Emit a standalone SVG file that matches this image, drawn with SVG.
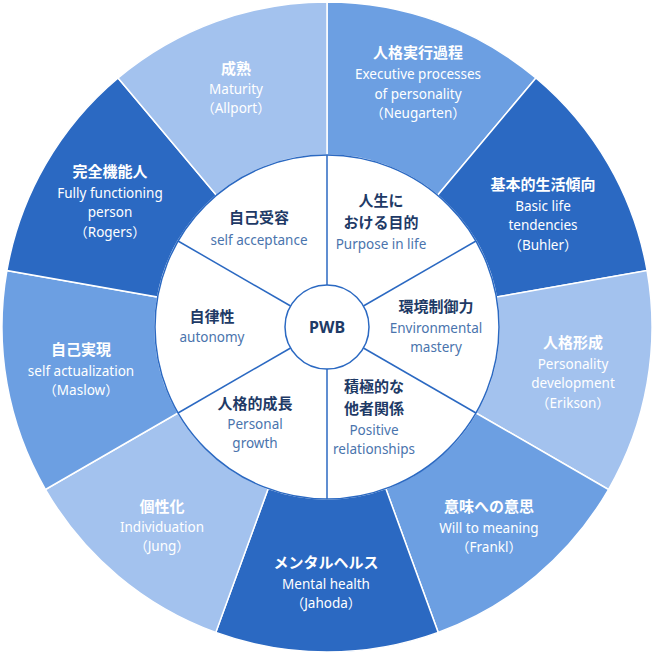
<svg xmlns="http://www.w3.org/2000/svg" width="654" height="654" viewBox="0 0 654 654">
<style>
.l{fill:#a3c2ee}.m{fill:#6c9fe2}.d{fill:#2b69c2}
.seg path{stroke:#fff;stroke-width:1.5}
text{font-family:"Noto Sans CJK JP","Noto Sans",sans-serif;text-anchor:middle}
.ot{fill:#fff;font-size:15px;font-weight:bold}
.os{fill:#fff;font-size:13.5px;font-family:"Noto Sans","Noto Sans CJK JP",sans-serif}
.it{fill:#1e3a66;font-size:15px;font-weight:bold}
.is{fill:#4a74ad;font-size:13.5px;font-family:"Noto Sans","Noto Sans CJK JP",sans-serif}
.ln{stroke:#2b69c2;stroke-width:1.5}
</style>
<g class="seg">
<g id="n-executive"><path class="m" d="M327,2 A325,325 0 0 1 535.9,78 L437.6,195.2 A172,172 0 0 0 327,155Z"/>
<text class="ot" x="418" y="58">人格実行過程</text><text class="os" x="418" y="79">Executive processes</text><text class="os" x="418" y="99">of personality</text><text class="os" x="418" y="118">（Neugarten）</text></g>
<g id="n-basic"><path class="d" d="M535.9,78 A325,325 0 0 1 647.1,270.6 L496.4,297.1 A172,172 0 0 0 437.6,195.2Z"/>
<text class="ot" x="543" y="190">基本的生活傾向</text><text class="os" x="543" y="211">Basic life</text><text class="os" x="543" y="230">tendencies</text><text class="os" x="543" y="250">（Buhler）</text></g>
<g id="n-erikson"><path class="l" d="M647.1,270.6 A325,325 0 0 1 608.5,489.5 L476,413 A172,172 0 0 0 496.4,297.1Z"/>
<text class="ot" x="573" y="348">人格形成</text><text class="os" x="573" y="369">Personality</text><text class="os" x="573" y="388">development</text><text class="os" x="573" y="408">（Erikson）</text></g>
<g id="n-frankl"><path class="m" d="M608.5,489.5 A325,325 0 0 1 438.2,632.4 L385.8,488.6 A172,172 0 0 0 476,413Z"/>
<text class="ot" x="489" y="512">意味への意思</text><text class="os" x="489" y="533">Will to meaning</text><text class="os" x="489" y="552">（Frankl）</text></g>
<g id="n-jahoda"><path class="d" d="M438.2,632.4 A325,325 0 0 1 215.8,632.4 L268.2,488.6 A172,172 0 0 0 385.8,488.6Z"/>
<text class="ot" x="326" y="568">メンタルヘルス</text><text class="os" x="326" y="589">Mental health</text><text class="os" x="326" y="608">（Jahoda）</text></g>
<g id="n-jung"><path class="l" d="M215.8,632.4 A325,325 0 0 1 45.5,489.5 L178,413 A172,172 0 0 0 268.2,488.6Z"/>
<text class="ot" x="162" y="512">個性化</text><text class="os" x="162" y="532">Individuation</text><text class="os" x="162" y="551">（Jung）</text></g>
<g id="n-maslow"><path class="m" d="M45.5,489.5 A325,325 0 0 1 6.9,270.6 L157.6,297.1 A172,172 0 0 0 178,413Z"/>
<text class="ot" x="81" y="355">自己実現</text><text class="os" x="81" y="376">self actualization</text><text class="os" x="81" y="395">（Maslow）</text></g>
<g id="n-rogers"><path class="d" d="M6.9,270.6 A325,325 0 0 1 118.1,78 L216.4,195.2 A172,172 0 0 0 157.6,297.1Z"/>
<text class="ot" x="110" y="177">完全機能人</text><text class="os" x="110" y="198">Fully functioning</text><text class="os" x="110" y="217">person</text><text class="os" x="110" y="237">（Rogers）</text></g>
<g id="n-allport"><path class="l" d="M118.1,78 A325,325 0 0 1 327,2 L327,155 A172,172 0 0 0 216.4,195.2Z"/>
<text class="ot" x="236" y="74">成熟</text><text class="os" x="236" y="94">Maturity</text><text class="os" x="236" y="113">（Allport）</text></g>
</g>
<circle cx="327" cy="327" r="172" fill="#fff" stroke="#2b69c2" stroke-width="1.5"/>
<g id="connectors">
<line class="ln" x1="327" y1="285" x2="327" y2="155"/>
<line class="ln" x1="363.4" y1="306" x2="476" y2="241"/>
<line class="ln" x1="363.4" y1="348" x2="476" y2="413"/>
<line class="ln" x1="327" y1="369" x2="327" y2="499"/>
<line class="ln" x1="290.6" y1="348" x2="178" y2="413"/>
<line class="ln" x1="290.6" y1="306" x2="178" y2="241"/>
</g>
<g id="n-acceptance"><text class="it" x="259" y="223">自己受容</text><text class="is" x="259" y="245">self acceptance</text></g>
<g id="n-purpose"><text class="it" x="381" y="206">人生に</text><text class="it" x="381" y="228">おける目的</text><text class="is" x="381" y="249">Purpose in life</text></g>
<g id="n-mastery"><text class="it" x="436" y="312">環境制御力</text><text class="is" x="436" y="333">Environmental</text><text class="is" x="436" y="352">mastery</text></g>
<g id="n-relations"><text class="it" x="374" y="392">積極的な</text><text class="it" x="374" y="414">他者関係</text><text class="is" x="374" y="435">Positive</text><text class="is" x="374" y="454">relationships</text></g>
<g id="n-growth"><text class="it" x="255" y="409">人格的成長</text><text class="is" x="255" y="429">Personal</text><text class="is" x="255" y="448">growth</text></g>
<g id="n-autonomy"><text class="it" x="212" y="322">自律性</text><text class="is" x="212" y="342">autonomy</text></g>
<g id="n-pwb"><circle cx="327" cy="327" r="42" fill="#fff" stroke="#2b69c2" stroke-width="1.5"/><text x="327" y="333" style="fill:#1e3a66;font-size:16px;font-weight:bold;font-family:'Noto Sans',sans-serif">PWB</text></g>
</svg>
